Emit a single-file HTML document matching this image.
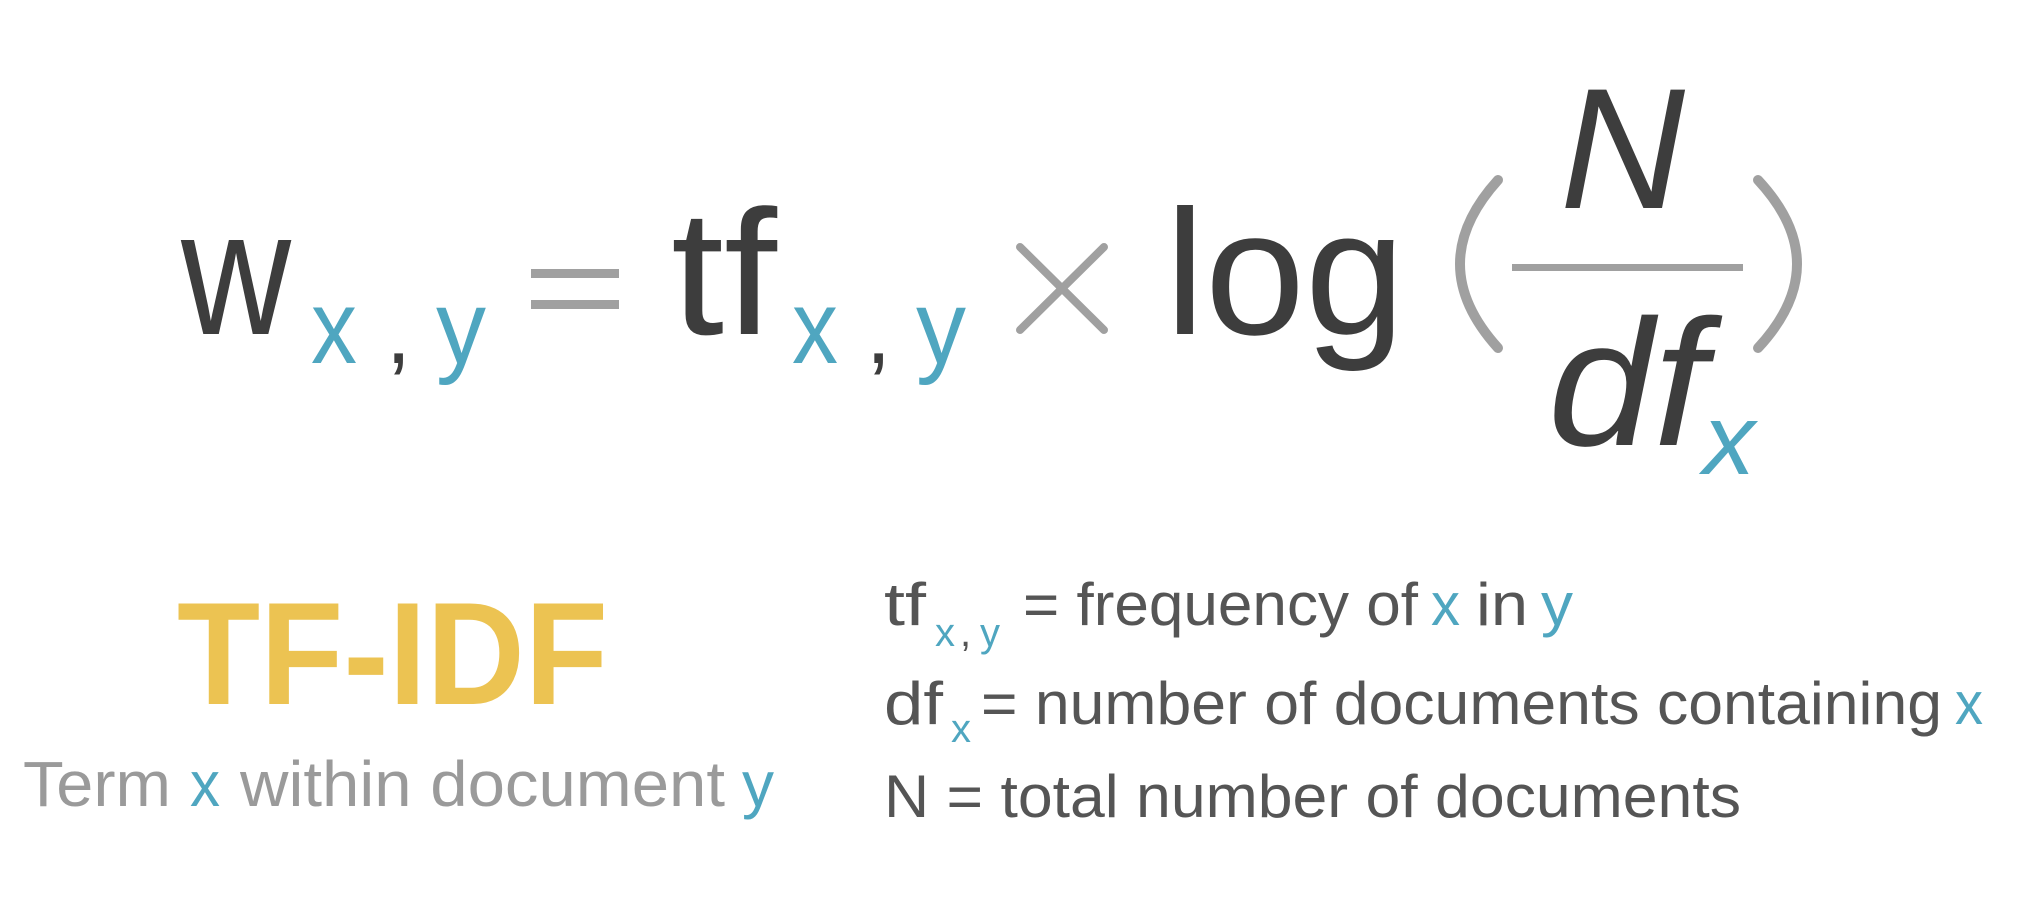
<!DOCTYPE html>
<html><head><meta charset="utf-8"><style>
html,body{margin:0;padding:0;background:#fff;}
svg{display:block;}
text{font-family:"Liberation Sans",sans-serif;}
</style></head><body>
<svg width="2030" height="912" viewBox="0 0 2030 912" xmlns="http://www.w3.org/2000/svg">
<g fill="#3d3d3d">
<text x="181" y="334" font-size="178" textLength="110" lengthAdjust="spacingAndGlyphs">w</text>
<text x="671" y="334" font-size="178" textLength="106" lengthAdjust="spacingAndGlyphs">tf</text>
<text x="1165" y="334" font-size="178" textLength="240" lengthAdjust="spacingAndGlyphs">log</text>
<text x="1560" y="208" font-size="172" font-style="italic" textLength="125" lengthAdjust="spacingAndGlyphs">N</text>
<text x="1548" y="445" font-size="180" font-style="italic" textLength="158" lengthAdjust="spacingAndGlyphs">df</text>
</g>
<g fill="#4fa6c0">
<text x="311" y="363" font-size="105" textLength="46" lengthAdjust="spacingAndGlyphs">x</text>
<text x="436" y="363" font-size="105" textLength="50" lengthAdjust="spacingAndGlyphs">y</text>
<text x="792" y="363" font-size="105" textLength="46" lengthAdjust="spacingAndGlyphs">x</text>
<text x="916" y="363" font-size="105" textLength="50" lengthAdjust="spacingAndGlyphs">y</text>
<text x="1703" y="474" font-size="100" font-style="italic" textLength="52" lengthAdjust="spacingAndGlyphs">x</text>
</g>
<g fill="#3d3d3d" font-size="90">
<text x="386" y="363">,</text>
<text x="866" y="363">,</text>
</g>
<g fill="#a0a0a0">
<rect x="531" y="269" width="88" height="9"/>
<rect x="531" y="300" width="88" height="9"/>
<rect x="1512" y="264" width="231" height="7"/>
</g>
<g stroke="#a0a0a0" stroke-width="8" fill="none" stroke-linecap="round">
<line x1="1020" y1="247" x2="1104" y2="330"/>
<line x1="1104" y1="247" x2="1020" y2="330"/>
<path d="M1498 180 Q1422 264 1498 348" stroke-width="10"/>
<path d="M1758 180 Q1836 264 1758 348" stroke-width="10"/>
</g>
<text x="177" y="704" font-size="146" font-weight="bold" fill="#ecc352" textLength="431" lengthAdjust="spacingAndGlyphs">TF-IDF</text>
<g font-size="64">
<text x="23" y="806" fill="#9a9a9a" textLength="148" lengthAdjust="spacingAndGlyphs">Term</text>
<text x="190" y="806" fill="#4fa6c0" textLength="30" lengthAdjust="spacingAndGlyphs">x</text>
<text x="240" y="806" fill="#9a9a9a" textLength="485" lengthAdjust="spacingAndGlyphs">within document</text>
<text x="742" y="806" fill="#4fa6c0" textLength="32" lengthAdjust="spacingAndGlyphs">y</text>
</g>
<g font-size="60" fill="#555">
<text x="884" y="625" textLength="42" lengthAdjust="spacingAndGlyphs">tf</text>
<text x="1023" y="625" textLength="395" lengthAdjust="spacingAndGlyphs">= frequency of</text>
<text x="1431" y="625" fill="#4fa6c0" textLength="29" lengthAdjust="spacingAndGlyphs">x</text>
<text x="1476" y="625" textLength="52" lengthAdjust="spacingAndGlyphs">in</text>
<text x="1541" y="625" fill="#4fa6c0" textLength="32" lengthAdjust="spacingAndGlyphs">y</text>
<text x="884" y="724" textLength="59" lengthAdjust="spacingAndGlyphs">df</text>
<text x="981" y="724" textLength="961" lengthAdjust="spacingAndGlyphs">= number of documents containing</text>
<text x="1955" y="724" fill="#4fa6c0" textLength="28" lengthAdjust="spacingAndGlyphs">x</text>
<text x="884" y="817" textLength="857" lengthAdjust="spacingAndGlyphs">N = total number of documents</text>
</g>
<g font-size="40" fill="#4fa6c0">
<text x="935" y="646">x</text>
<text x="960" y="646" fill="#555">,</text>
<text x="980" y="646">y</text>
<text x="951" y="742">x</text>
</g>
</svg>
</body></html>
